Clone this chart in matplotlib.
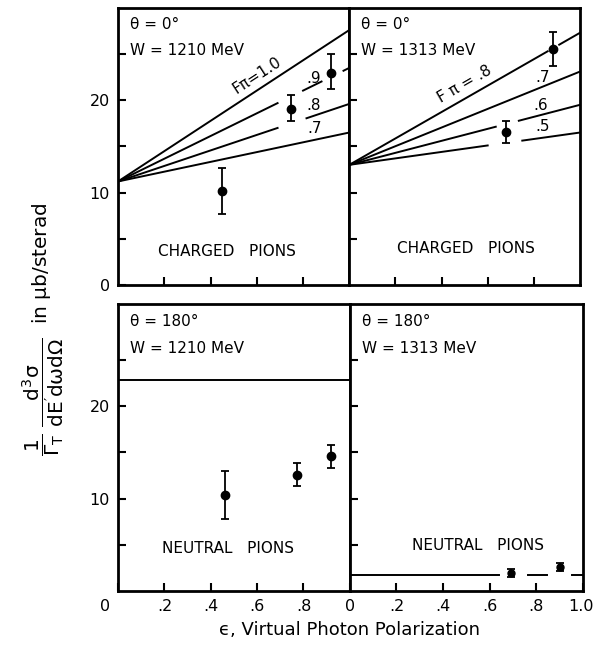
import numpy as np
import matplotlib.pyplot as plt
import matplotlib.transforms as mtransforms

# theory lines: value at eps=0 and eps=1, plus the drawn pieces (gaps around points/labels)
tl_f = ['1.0', '.9', '.8', '.7']
tl_y0 = [11.2, 11.2, 11.2, 11.2]
tl_y1 = [27.6, 23.5, 19.6, 16.5]
tl_pieces = [[(0, 1)], [(0, 0.69), (0.80, 0.88), (0.975, 1)], [(0, 0.69), (0.815, 1)], [(0, 1)]]

tr_f = ['.8', '.7', '.6', '.5']
tr_y0 = [13.0, 13.0, 13.0, 13.0]
tr_y1 = [27.3, 23.1, 19.5, 16.5]
tr_pieces = [[(0, 0.86), (0.91, 1)], [(0, 1)], [(0, 0.635), (0.735, 1)], [(0, 0.60), (0.75, 1)]]

bl_level = 22.8
br_level = 1.7
br_pieces = [(0, 0.64), (0.765, 0.845), (0.955, 1)]

# measured points
tl_x = [0.45, 0.75, 0.92]
tl_v = [10.2, 19.0, 23.0]
tl_lo = [7.7, 17.7, 21.2]
tl_hi = [12.7, 20.6, 25.0]

tr_x = [0.68, 0.885]
tr_v = [16.6, 25.6]
tr_lo = [15.4, 23.7]
tr_hi = [17.8, 27.4]

bl_x = [0.46, 0.77, 0.92]
bl_v = [10.4, 12.5, 14.6]
bl_lo = [7.8, 11.3, 13.3]
bl_hi = [13.0, 13.8, 15.8]

br_x = [0.69, 0.90]
br_v = [1.9, 2.6]
br_lo = [1.5, 2.2]
br_hi = [2.4, 3.0]

plt.rcParams['font.family'] = 'DejaVu Sans'
plt.rcParams['mathtext.fontset'] = 'dejavusans'
plt.rcParams['mathtext.default'] = 'regular'
fig = plt.figure(figsize=(5.93, 6.46), dpi=100)
ax_tl = fig.add_axes([0.199, 0.559, 0.390, 0.4288])
ax_tr = fig.add_axes([0.589, 0.559, 0.389, 0.4288])
ax_bl = fig.add_axes([0.199, 0.085, 0.391, 0.4443])
ax_br = fig.add_axes([0.590, 0.085, 0.393, 0.4443])


def style(ax, top_row, left_col):
    ax.set_xlim(0, 1)
    ax.set_ylim(0, 30 if top_row else 31)
    for s in ax.spines.values():
        s.set_linewidth(2)
    ax.set_yticks([5, 10, 15, 20, 25])
    ax.set_xticks([0.2, 0.4, 0.6, 0.8])
    ax.tick_params(direction='in', length=6, width=1.5, labelsize=11.5,
                   top=False, right=False, pad=6)
    ax.set_yticklabels([])
    ax.set_xticklabels([])
    if left_col:
        if top_row:
            ax.set_yticks([0, 5, 10, 15, 20, 25])
            ax.set_yticklabels(['0', '', '10', '', '20', ''])
        else:
            ax.set_yticklabels(['', '10', '', '20', ''])
    if not top_row:
        if left_col:
            ax.set_xticks([0, 0.2, 0.4, 0.6, 0.8])
            ax.set_xticklabels(['0', '.2', '.4', '.6', '.8'])
        else:
            ax.set_xticks([0, 0.2, 0.4, 0.6, 0.8, 1.0])
            ax.set_xticklabels(['0', '.2', '.4', '.6', '.8', '1.0'])


def theory(ax, y0, y1, pieces):
    for a, b, pcs in zip(y0, y1, pieces):
        for e0, e1 in pcs:
            xs = np.array([e0, e1])
            ax.plot(xs, a + (b - a) * xs, color='black', lw=1.4)


def points(ax, x, v, lo, hi, ms=6):
    v = np.array(v)
    err = [v - np.array(lo), np.array(hi) - v]
    ax.errorbar(x, v, yerr=err, fmt='o', color='black', ms=ms,
                capsize=3, elinewidth=1.3, capthick=1.3)


style(ax_tl, True, True)
style(ax_tr, True, False)
style(ax_bl, False, True)
style(ax_br, False, False)

# keep the last "1.0" label inside the figure
last = ax_br.get_xticklabels()[-1]
last.set_ha('right')
last.set_transform(last.get_transform() + mtransforms.ScaledTranslation(8 / 72, 0, fig.dpi_scale_trans))
first = ax_bl.get_xticklabels()[0]
first.set_transform(first.get_transform() + mtransforms.ScaledTranslation(-9 / 72, 0, fig.dpi_scale_trans))

theory(ax_tl, tl_y0, tl_y1, tl_pieces)
theory(ax_tr, tr_y0, tr_y1, tr_pieces)
ax_bl.axhline(bl_level, color='black', lw=1.4)
for e0, e1 in br_pieces:
    ax_br.plot([e0, e1], [br_level, br_level], color='black', lw=1.4)

points(ax_tl, tl_x, tl_v, tl_lo, tl_hi)
points(ax_tr, tr_x, tr_v, tr_lo, tr_hi)
points(ax_bl, bl_x, bl_v, bl_lo, bl_hi)
points(ax_br, br_x, br_v, br_lo, br_hi, ms=5)

fs = 11
ax_tl.text(0.6, 22.7, 'Fπ=' + tl_f[0], rotation=33, ha='center', va='center', fontsize=fs)
ax_tl.text(0.845, 22.4, tl_f[1], ha='center', va='center', fontsize=fs)
ax_tl.text(0.845, 19.4, tl_f[2], ha='center', va='center', fontsize=fs)
ax_tl.text(0.85, 16.9, tl_f[3], ha='center', va='center', fontsize=fs)

ax_tr.text(0.5, 21.7, 'F π = ' + tr_f[0], rotation=30, ha='center', va='center', fontsize=fs)
ax_tr.text(0.84, 22.5, tr_f[1], ha='center', va='center', fontsize=fs)
ax_tr.text(0.83, 19.4, tr_f[2], ha='center', va='center', fontsize=fs)
ax_tr.text(0.84, 17.1, tr_f[3], ha='center', va='center', fontsize=fs)

for ax, th, w in [(ax_tl, '0°', '1210'), (ax_tr, '0°', '1313'),
                  (ax_bl, '180°', '1210'), (ax_br, '180°', '1313')]:
    ax.text(0.05, 0.94, 'θ = ' + th, transform=ax.transAxes,
            ha='left', va='center', fontsize=fs)
    ax.text(0.05, 0.845, 'W = ' + w + ' MeV', transform=ax.transAxes,
            ha='left', va='center', fontsize=fs)

ax_tl.text(0.47, 0.12, 'CHARGED   PIONS', transform=ax_tl.transAxes, ha='center', va='center', fontsize=fs)
ax_tr.text(0.505, 0.13, 'CHARGED   PIONS', transform=ax_tr.transAxes, ha='center', va='center', fontsize=fs)
ax_bl.text(0.475, 0.15, 'NEUTRAL   PIONS', transform=ax_bl.transAxes, ha='center', va='center', fontsize=fs)
ax_br.text(0.55, 0.16, 'NEUTRAL   PIONS', transform=ax_br.transAxes, ha='center', va='center', fontsize=fs)

fig.text(0.59, 0.025, 'ϵ, Virtual Photon Polarization', ha='center', va='center', fontsize=13)
fig.text(0.072, 0.49, r"$\dfrac{1}{\Gamma_T}\ \dfrac{d^3\sigma}{dE'd\omega d\Omega}$  in $\mu$b/sterad",
         rotation=90, ha='center', va='center', fontsize=14.5)

fig.savefig('out.png', dpi=100)
